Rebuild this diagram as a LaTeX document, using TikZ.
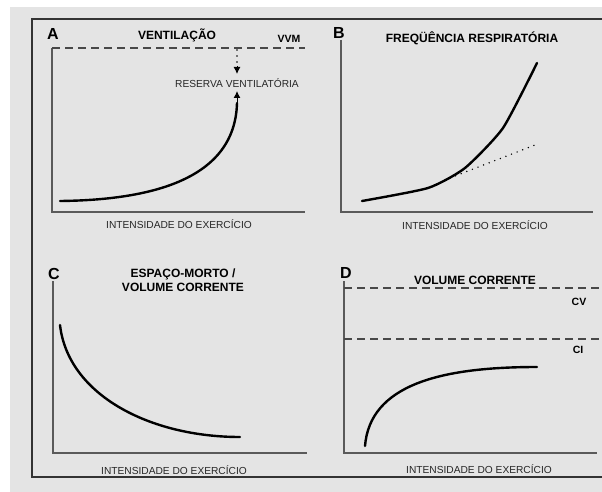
\documentclass[tikz,border=0pt]{standalone}
\usepackage{fontspec}
\setmainfont{Liberation Sans}
\usetikzlibrary{arrows.meta}
\definecolor{bg}{HTML}{E4E4E4}
\definecolor{axc}{HTML}{5A5A5A}
\definecolor{frc}{HTML}{333333}
\tikzset{
  axis/.style={draw=axc, line width=1.2pt},
  curve/.style={draw=black, line width=2.4pt, line cap=round},
  dashline/.style={draw=axc!80!black, line width=1.6pt, dash pattern=on 8pt off 5pt},
  dotline/.style={draw=black, line width=1.8pt, line cap=round, dash pattern=on 0pt off 6pt},
  tip/.style={-{Latex[length=7pt,width=7pt]}, line width=1pt},
  title/.style={font=\bfseries\fontsize{12}{13.5}\selectfont, inner sep=0pt, align=center},
  panel/.style={font=\bfseries\fontsize{16}{18}\selectfont, inner sep=0pt},
  small/.style={font=\fontsize{10.2}{11}\selectfont, inner sep=0pt, text=black!85},
  tag/.style={font=\bfseries\fontsize{10.5}{12}\selectfont, inner sep=0pt},
}
\begin{document}
\begin{tikzpicture}[x=1pt,y=-1pt]
\useasboundingbox (0,0) rectangle (602,492);
\fill[white] (0,0) rectangle (602,492);
\fill[bg] (10,7) rectangle (602,492);
\draw[frc, line width=1.4pt] (602,19) -- (32,19) -- (32,477) -- (602,477);

% ---------- Panel A ----------
\coordinate (A0) at (52,212);
\coordinate (Atop) at (52,48);
\coordinate (Aend) at (305,212);
\draw[axis] (Atop) -- (A0) -- (Aend);
\draw[dashline] (52,48) -- (305,48);
\node[panel] (la) at (53,34) {A};
\node[title] (ta) at (177,35) {VENTILAÇÃO};
\node[tag] (vvm) at (289,39) {VVM};
\node[small] (res) at (237,83) {RESERVA VENTILATÓRIA};
\coordinate (vtop) at (237,50);
\coordinate (rtop) at (237,74);
\coordinate (rbot) at (237,91);
\coordinate (cs) at (60,201);
\coordinate (ce) at (237,103);
\draw[curve] (cs) .. controls (150,200) and (235,180) .. (ce);
\draw[dotline] (vtop) -- (237,62);
\draw[tip] (237,66) -- (rtop);
\draw[tip] (ce) -- (rbot);
\node[small] (xa) at (179,224) {INTENSIDADE DO EXERCÍCIO};

% ---------- Panel B ----------
\coordinate (B0) at (341,212);
\coordinate (Btop) at (341,40);
\coordinate (Bend) at (593,212);
\draw[axis] (Btop) -- (B0) -- (Bend);
\node[panel] (lb) at (339,33) {B};
\node[title] (tb) at (472,38) {FREQÜÊNCIA RESPIRATÓRIA};
\draw[curve, line join=round] plot[smooth, tension=0.35] coordinates {(362,201) (428,188) (465,168) (503,128) (537,63)};
\coordinate (d1) at (450,178);
\coordinate (d2) at (535,145);
\draw[dotline, line width=1.6pt] (d1) -- (d2);
\node[small] (xb) at (475,225) {INTENSIDADE DO EXERCÍCIO};

% ---------- Panel C ----------
\coordinate (C0) at (53,453);
\coordinate (Ctop) at (53,281);
\coordinate (Cend) at (307,453);
\draw[axis] (Ctop) -- (C0) -- (Cend);
\node[panel] (lc) at (54,274) {C};
\node[title] (tc) at (183,280) {ESPAÇO-MORTO /\\VOLUME CORRENTE};
\draw[curve] (60,325) .. controls (68,395) and (150,437) .. (240,437);
\node[small] (xc) at (174,470) {INTENSIDADE DO EXERCÍCIO};

% ---------- Panel D ----------
\coordinate (D0) at (344,453);
\coordinate (Dtop) at (344,281);
\coordinate (Dend) at (597,453);
\draw[axis] (Dtop) -- (D0) -- (Dend);
\node[panel] (ld) at (346,273) {D};
\node[title] (td) at (475,280) {VOLUME CORRENTE};
\draw[dashline] (344,288) -- (600,288);
\draw[dashline] (344,339) -- (600,339);
\node[tag] (cv) at (579,302) {CV};
\node[tag] (ci) at (578,350) {CI};
\draw[curve] (365,446) .. controls (370,385) and (440,367) .. (537,367);
\node[small] (xd) at (479,469) {INTENSIDADE DO EXERCÍCIO};
\end{tikzpicture}
\end{document}
